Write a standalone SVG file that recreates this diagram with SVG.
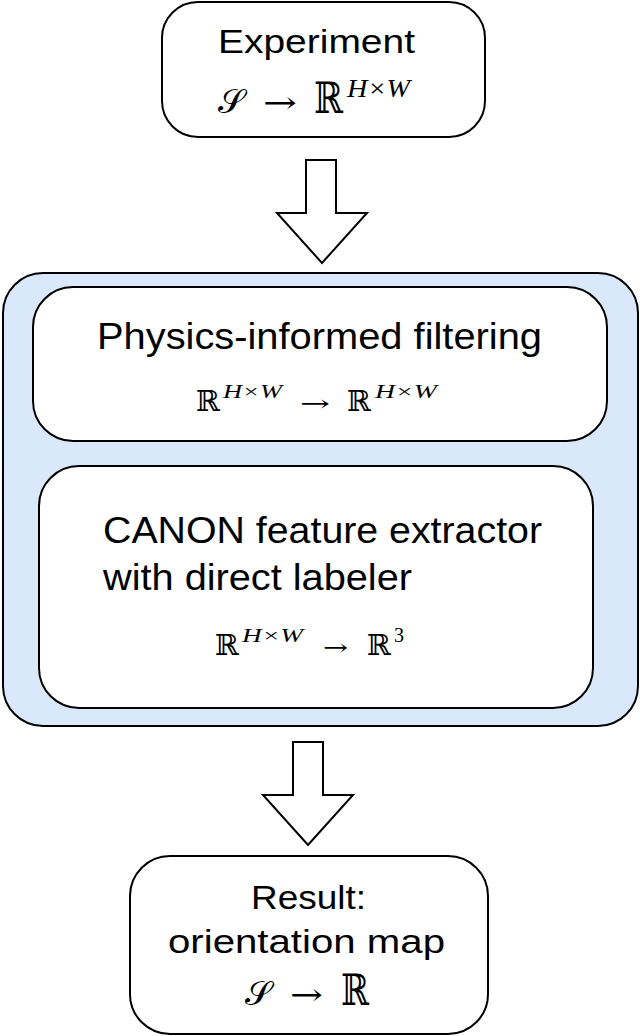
<svg xmlns="http://www.w3.org/2000/svg" width="640" height="1036" viewBox="0 0 640 1036">
<style>
.box{fill:#ffffff;stroke:#000000;stroke-width:2}
.group{fill:#dae8fc;stroke:#000000;stroke-width:2}
.arr{fill:#ffffff;stroke:#000000;stroke-width:2;stroke-linejoin:miter}
.lbl{font-family:"Liberation Sans",Arial,sans-serif;fill:#000000}
.m{font-family:"DejaVu Serif","Liberation Serif",serif;fill:#000000}
.it{font-family:"Liberation Serif","DejaVu Serif",serif;font-style:italic;fill:#000000}
.num{font-family:"Liberation Serif","DejaVu Serif",serif;fill:#000000}
</style>
<rect width="640" height="1036" fill="#ffffff"/>
<g id="pipeline">
<rect class="group" x="3" y="273" width="635" height="453" rx="40" ry="40"/>
</g>
<g id="experiment">
<rect class="box" x="162" y="2" width="323" height="135" rx="36" ry="36"/>
<text class="lbl" x="218" y="53" font-size="33" textLength="197" lengthAdjust="spacingAndGlyphs">Experiment</text>
<text class="m" x="218" y="113" font-size="34">𝒮</text>
<text class="m" x="263" y="113" font-size="30" textLength="34" lengthAdjust="spacingAndGlyphs">→</text>
<text class="m" x="314" y="113" font-size="43" textLength="29" lengthAdjust="spacingAndGlyphs">ℝ</text>
<text class="it" x="347" y="97" font-size="25" textLength="63" lengthAdjust="spacingAndGlyphs">H×W</text>
</g>
<g id="filtering">
<rect class="box" x="33" y="287" width="574" height="154" rx="40" ry="40"/>
<text class="lbl" x="97" y="349" font-size="36" textLength="445" lengthAdjust="spacingAndGlyphs">Physics-informed filtering</text>
<text class="m" x="196" y="411" font-size="29" textLength="24" lengthAdjust="spacingAndGlyphs">ℝ</text>
<text class="it" x="223" y="398" font-size="18" textLength="59" lengthAdjust="spacingAndGlyphs">H×W</text>
<text class="m" x="300" y="411" font-size="22" textLength="30" lengthAdjust="spacingAndGlyphs">→</text>
<text class="m" x="347" y="411" font-size="29" textLength="24" lengthAdjust="spacingAndGlyphs">ℝ</text>
<text class="it" x="375" y="398" font-size="18" textLength="62" lengthAdjust="spacingAndGlyphs">H×W</text>
</g>
<g id="canon">
<rect class="box" x="39" y="466" width="554" height="242" rx="40" ry="40"/>
<text class="lbl" x="103" y="543" font-size="36" textLength="439" lengthAdjust="spacingAndGlyphs">CANON feature extractor</text>
<text class="lbl" x="103" y="590" font-size="36" textLength="309" lengthAdjust="spacingAndGlyphs">with direct labeler</text>
<text class="m" x="215" y="655" font-size="29" textLength="24" lengthAdjust="spacingAndGlyphs">ℝ</text>
<text class="it" x="242" y="642" font-size="18" textLength="61" lengthAdjust="spacingAndGlyphs">H×W</text>
<text class="m" x="323" y="655" font-size="22" textLength="25" lengthAdjust="spacingAndGlyphs">→</text>
<text class="m" x="367" y="655" font-size="29" textLength="24" lengthAdjust="spacingAndGlyphs">ℝ</text>
<text class="num" x="394" y="642" font-size="20">3</text>
</g>
<g id="result">
<rect class="box" x="130" y="856" width="358" height="178" rx="40" ry="40"/>
<text class="lbl" x="251" y="909" font-size="33" textLength="115" lengthAdjust="spacingAndGlyphs">Result:</text>
<text class="lbl" x="168" y="953" font-size="33" textLength="277" lengthAdjust="spacingAndGlyphs">orientation map</text>
<text class="m" x="245" y="1005" font-size="34">𝒮</text>
<text class="m" x="290" y="1005" font-size="30" textLength="33" lengthAdjust="spacingAndGlyphs">→</text>
<text class="m" x="341" y="1005" font-size="43" textLength="28" lengthAdjust="spacingAndGlyphs">ℝ</text>
</g>
<g id="connectors">
<path class="arr" d="M306,160 L336,160 L336,213 L367,213 L322,263 L277,213 L306,213 Z"/>
<path class="arr" d="M293,742 L323,742 L323,795 L353,795 L308,845 L263,795 L293,795 Z"/>
</g>
</svg>
